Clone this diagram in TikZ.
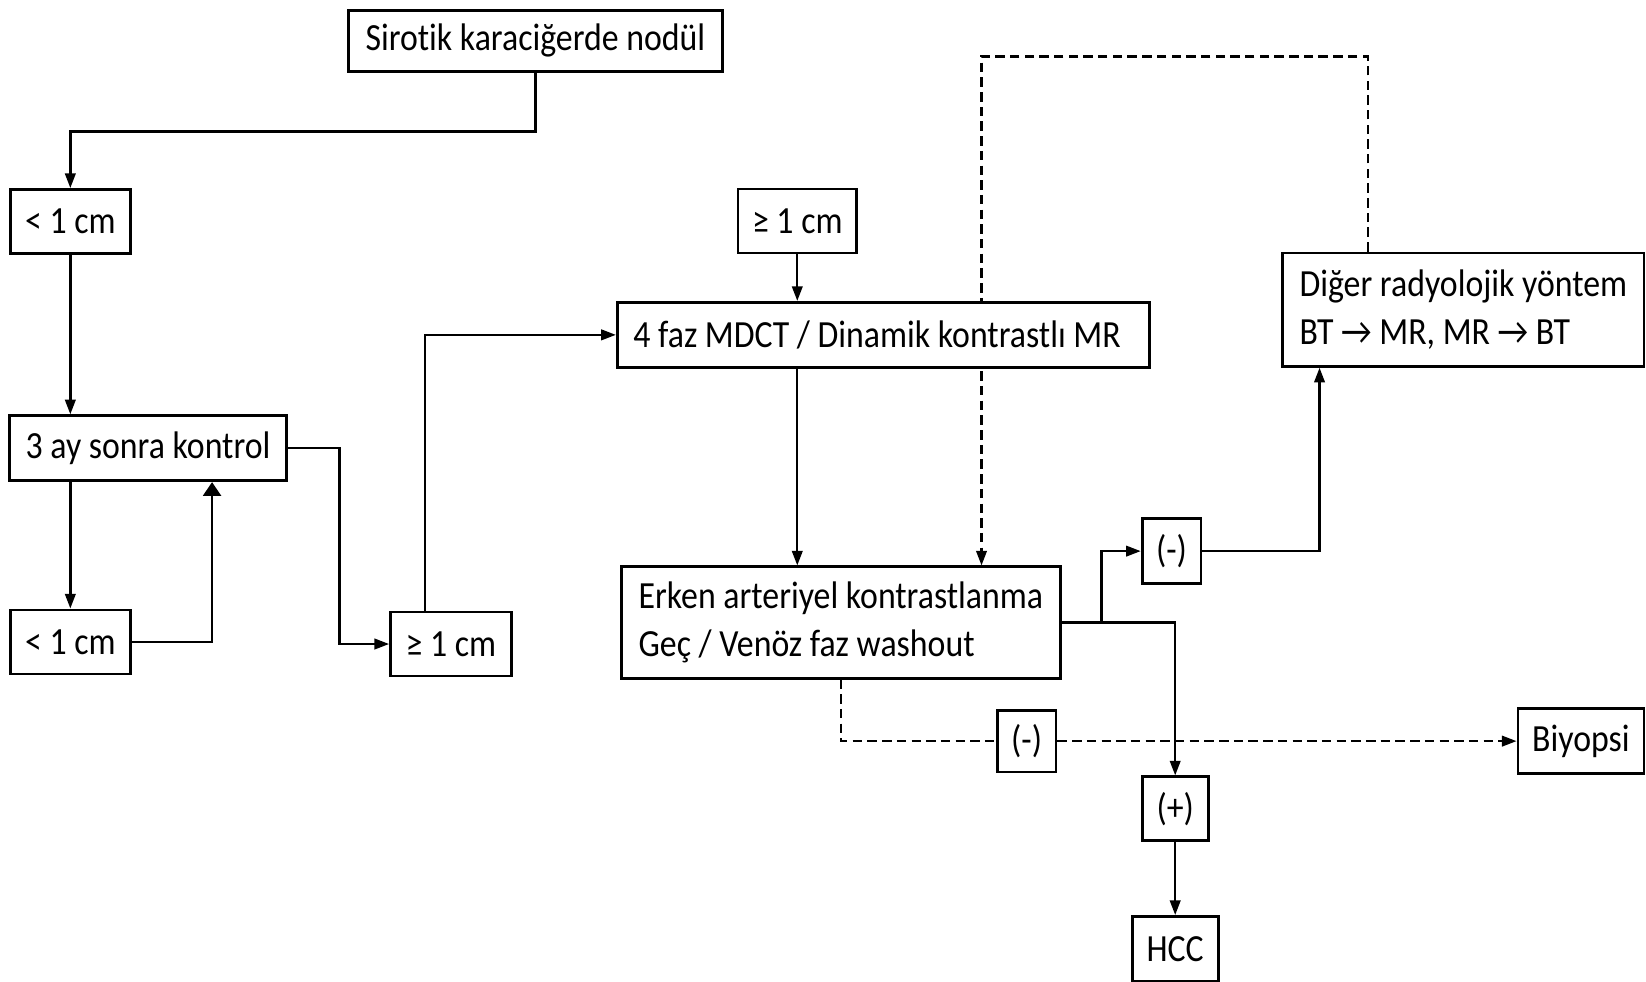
\documentclass[tikz,border=0pt]{standalone}
\usepackage{fontspec}
\setmainfont{Carlito}[FakeStretch=0.88, Ligatures=NoCommon]
\usetikzlibrary{arrows.meta,positioning,backgrounds}

\begin{document}
\begin{tikzpicture}[x=0.5pt, y=-0.5pt, >={Triangle[length=7pt,width=5pt]},
    every node/.style={font=\fontsize{18.3}{23}\selectfont},
    kutu/.style={draw, rectangle, line width=1.3pt, fill=white, align=left, inner sep=0pt},
    cizgi/.style={line width=1.15pt},
    kesik/.style={line width=1.15pt, dash pattern=on 4.5pt off 2.5pt}]
    \useasboundingbox (0,0) rectangle (1568,935);

    % Giris
    \node[kutu, minimum width=178pt, minimum height=29pt] (nodul) at (510,39) {Sirotik karaciğerde nodül};

    % Sol kol
    \node[kutu, minimum width=57pt, minimum height=30.5pt] (kucuk1) at (67,211) {< 1 cm};
    \node[kutu, minimum width=132pt, minimum height=31pt] (kontrol) at (141,427) {3 ay sonra kontrol};
    \node[kutu, minimum width=57pt, minimum height=30.5pt] (kucuk2) at (67,611.5) {< 1 cm};
    \node[kutu, minimum width=57.5pt, minimum height=30.5pt] (buyuk2) at (429.5,613.5) {≥ 1 cm};

    % Goruntuleme
    \node[kutu, minimum width=56.5pt, minimum height=30.5pt] (buyuk1) at (759.5,210.5) {≥ 1 cm};
    \node[kutu, minimum width=253.5pt, minimum height=31pt] (mdct) at (841.5,319) {4 faz MDCT / Dinamik kontrastlı MR\hspace{6pt}};
    \node[kutu, minimum width=209pt, minimum height=53pt] (erken) at (801,593) {Erken arteriyel kontrastlanma\\Geç / Venöz faz washout};
    \node[kutu, minimum width=172pt, minimum height=54pt] (diger) at (1394,295) {Diğer radyolojik yöntem\\BT → MR, MR → BT};

    % Sonuclar
    \node[kutu, minimum width=28pt, minimum height=31pt] (eksi1) at (1116,525) {(-)};
    \node[kutu, minimum width=28pt, minimum height=29.5pt] (eksi2) at (978,706) {(-)};
    \node[kutu, minimum width=60pt, minimum height=31pt] (biyopsi) at (1506,706) {Biyopsi};
    \node[kutu, minimum width=31.5pt, minimum height=30.5pt] (arti) at (1119.5,770.5) {(+)};
    \node[kutu, minimum width=41pt, minimum height=31pt] (hcc) at (1119.5,904) {HCC};

    \draw[cizgi, ->] (nodul.south) -- ++(0,56) -| (kucuk1.north);
    \draw[cizgi, ->] (kucuk1.south) -- (kucuk1.south |- kontrol.north);
    \draw[cizgi, ->] (kontrol.south -| kucuk2.north) -- (kucuk2.north);
    \draw[cizgi, -{Triangle[length=6.5pt,width=8.5pt]}] (kucuk2.east) -| ([xshift=30.5pt]kontrol.south);
    \draw[cizgi, ->] (kontrol.east) -- ++(49,0) |- (buyuk2.west);
    \draw[cizgi, ->] ([xshift=-12.25pt]buyuk2.north) |- (mdct.west);
    \draw[cizgi, ->] (buyuk1.south) -- (buyuk1.south |- mdct.north);
    \draw[cizgi, ->] (buyuk1.south |- mdct.south) -- (buyuk1.south |- erken.north);

    % kesik yol, kutunun arkasindan
    \begin{scope}[on background layer]
        \draw[kesik, ->] ([xshift=-45.5pt]diger.north) -- ++(0,-186) -| ([xshift=67pt]erken.north);
    \end{scope}

    \draw[cizgi, ->] (erken.east) -- ++(38,0) |- (eksi1.west);
    \draw[cizgi, ->] (erken.east) -| (arti.north);
    \draw[cizgi, ->] (eksi1.east) -| ([xshift=-68.5pt]diger.south);
    \draw[kesik] (erken.south) |- (eksi2.west);
    \draw[kesik, ->] (eksi2.east) -- (biyopsi.west);
    \draw[cizgi, ->] (arti.south) -- (hcc.north);
\end{tikzpicture}
\end{document}
